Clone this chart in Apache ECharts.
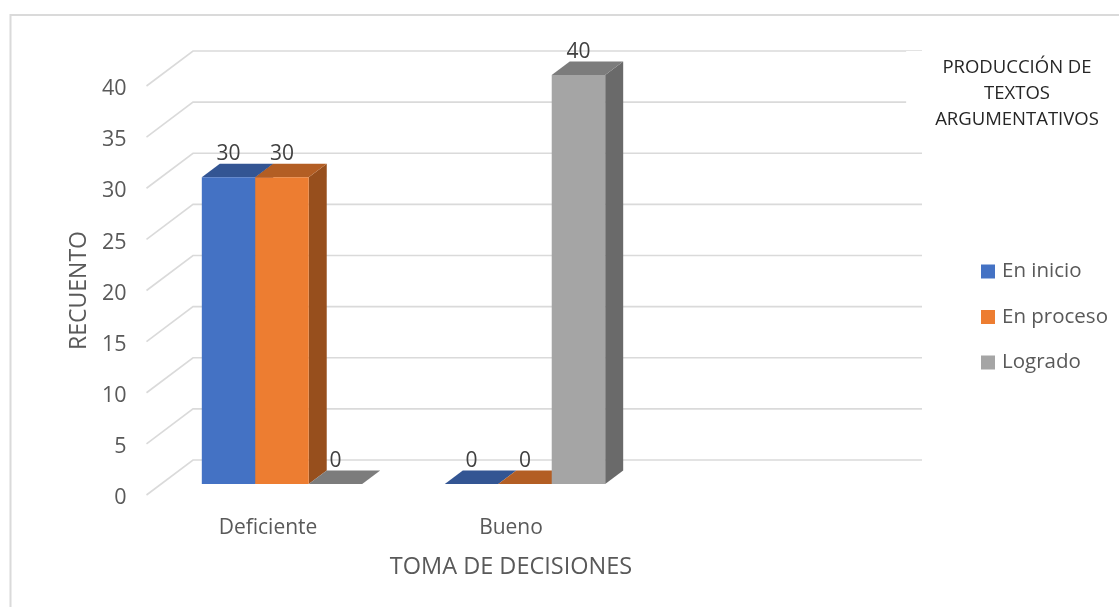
<!DOCTYPE html>
<html>
<head>
<meta charset="utf-8">
<style>html,body{margin:0;padding:0;background:#fff}#c{width:1119px;height:607px}</style>
<script src="https://cdn.jsdelivr.net/npm/echarts@6/dist/echarts.min.js"></script>
</head>
<body>
<div id="c"></div>
<script>
const categories = ['Deficiente', 'Bueno', ''];
const seriesNames = ['En inicio', 'En proceso', 'Logrado'];
const enInicio = [30, 0, null];
const enProceso = [30, 0, null];
const logrado = [0, 40, null];
const yTicks = [0, 5, 10, 15, 20, 25, 30, 35, 40];
const frontColors = ['#4472C4', '#ED7D31', '#A5A5A5'];
const topColors = ['#335593', '#B35E24', '#7C7C7C'];
const sideColors = ['#294475', '#974F1D', '#6A6A6A'];

const FONT = '"Open Sans"';
const WALL = [46.5, 35];
const INSET = [14, 11];
const DEPTH = [18, 13.5];
const BAR_RATIO = 0.22;

function wallItem(params, api) {
  const v = api.value(0);
  const cs = params.coordSys;
  const y = api.coord([0, v])[1];
  const x0 = cs.x, x1 = cs.x + cs.width;
  return {
    type: 'polyline',
    shape: { points: [[x0, y], [x0 + WALL[0], y - WALL[1]], [x1 + WALL[0], y - WALL[1]]] },
    style: { stroke: '#DADADA', lineWidth: 1.6, fill: null },
    silent: true
  };
}

function barRenderer(idx) {
  return function (params, api) {
    const v = api.value(1);
    if (v === null || v === undefined || isNaN(v)) return null;
    const band = api.size([1, 0])[0];
    const w = band * BAR_RATIO;
    const c = api.coord([api.value(0), 0]);
    const t = api.coord([api.value(0), v]);
    const x0 = c[0] + INSET[0] + (idx - 1.5) * w;
    const x1 = x0 + w;
    const yb = c[1] - INSET[1];
    const yt = t[1] - INSET[1];
    const dx = DEPTH[0], dy = DEPTH[1];
    const children = [];
    if (v > 0) {
      children.push({ type: 'polygon', shape: { points: [[x1, yb], [x1 + dx, yb - dy], [x1 + dx, yt - dy], [x1, yt]] }, style: { fill: sideColors[idx] } });
    }
    children.push({ type: 'polygon', shape: { points: [[x0, yt], [x1, yt], [x1 + dx, yt - dy], [x0 + dx, yt - dy]] }, style: { fill: topColors[idx] } });
    if (v > 0) {
      children.push({ type: 'rect', shape: { x: x0, y: yt, width: w, height: yb - yt }, style: { fill: frontColors[idx] } });
    }
    children.push({
      type: 'text',
      style: { text: String(v), x: (x0 + x1) / 2, y: yt - 23, align: 'center', verticalAlign: 'middle', fill: '#404040', font: '21px ' + FONT }
    });
    return { type: 'group', children: children };
  };
}

const seriesValues = [enInicio, enProceso, logrado];
const option = {
  animation: false,
  backgroundColor: '#fff',
  title: {
    text: 'PRODUCCIÓN DE\nTEXTOS\nARGUMENTATIVOS',
    left: 988,
    top: 51,
    padding: [4, 29, 4, 29],
    backgroundColor: '#fff',
    textAlign: 'center',
    textStyle: { fontFamily: FONT, fontSize: 18.5, fontWeight: 'normal', color: '#262626', lineHeight: 26 }
  },
  legend: {
    orient: 'vertical',
    left: 976,
    top: 256,
    itemWidth: 14,
    itemHeight: 14,
    itemGap: 24.5,
    icon: 'rect',
    data: seriesNames,
    textStyle: { fontFamily: FONT, fontSize: 20.5, color: '#595959', padding: [0, 0, 0, 2] }
  },
  grid: { left: 146.5, top: 86, width: 729, height: 409 },
  xAxis: {
    type: 'category',
    data: categories,
    axisLine: { show: false },
    axisTick: { show: false },
    axisLabel: { fontFamily: FONT, fontSize: 21, color: '#595959', margin: 23 },
    name: 'TOMA DE DECISIONES',
    nameLocation: 'middle',
    nameGap: 60,
    nameTextStyle: { fontFamily: FONT, fontSize: 23.5, color: '#595959' }
  },
  yAxis: {
    type: 'value',
    min: 0,
    max: 40,
    interval: 5,
    splitLine: { show: false },
    axisLine: { show: false },
    axisTick: { show: false },
    axisLabel: {
      margin: 20,
      formatter: '{a|{value}}',
      rich: { a: { fontFamily: FONT, fontSize: 21.5, color: '#595959', padding: [6, 0, 0, 0] } }
    },
    name: 'RECUENTO',
    nameLocation: 'middle',
    nameGap: 56,
    nameTextStyle: { fontFamily: FONT, fontSize: 23, color: '#595959' }
  },
  series: [
    {
      type: 'custom',
      name: 'wall',
      silent: true,
      renderItem: wallItem,
      data: yTicks.map(v => [v]),
      encode: { y: 0 },
      z: 1
    }
  ].concat(seriesNames.map((name, idx) => ({
    type: 'custom',
    name: name,
    renderItem: barRenderer(idx),
    itemStyle: { color: frontColors[idx] },
    data: seriesValues[idx].map((v, i) => [i, v]),
    encode: { x: 0, y: 1 },
    z: 2 + idx
  }))),
  graphic: [{
    type: 'polyline',
    shape: { points: [[10.5, 607], [10.5, 15], [1119, 15]] },
    style: { stroke: '#DADADA', lineWidth: 2, fill: null },
    silent: true
  }]
};
const chart = echarts.init(document.getElementById('c'));
chart.setOption(option);
</script>
</body>
</html>
